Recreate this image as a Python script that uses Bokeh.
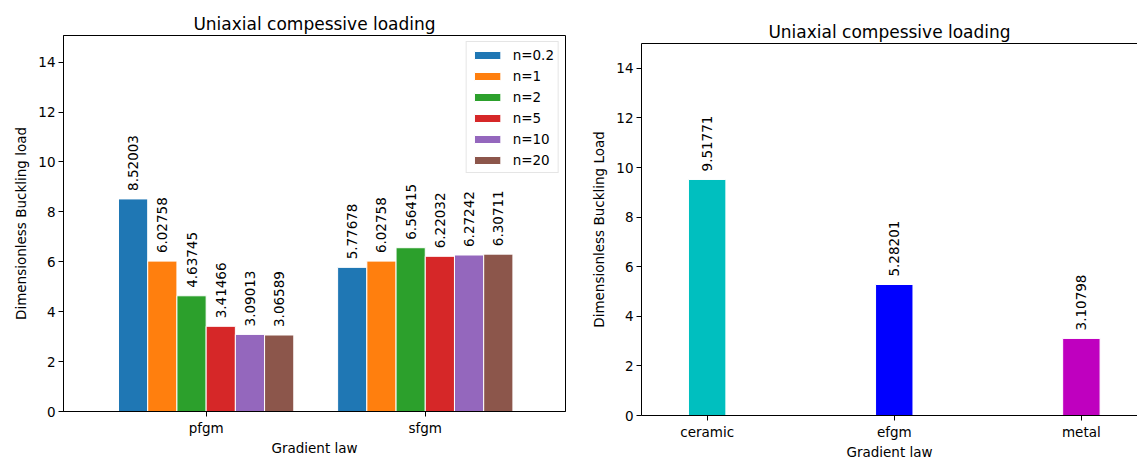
import math
from bokeh.plotting import figure
from bokeh.layouts import row
from bokeh.models import Range1d, FixedTicker, Legend, LegendItem, LinearAxis
from bokeh.core.properties import value
from bokeh.embed import file_html
from bokeh.resources import INLINE

# ---- left chart data ----
left_categories = ["pfgm", "sfgm"]
series_labels = ["n=0.2", "n=1", "n=2", "n=5", "n=10", "n=20"]
pfgm_values = [8.52003, 6.02758, 4.63745, 3.41466, 3.09013, 3.06589]
sfgm_values = [5.77678, 6.02758, 6.56415, 6.22032, 6.27242, 6.30711]
series_colors = ["#1f77b4", "#ff7f0e", "#2ca02c", "#d62728", "#9467bd", "#8c564b"]

# ---- right chart data ----
right_categories = ["ceramic", "efgm", "metal"]
right_values = [9.51771, 5.28201, 3.10798]
right_colors = ["#00bfbf", "#0000ff", "#bf00bf"]

y_ticks = [0, 2, 4, 6, 8, 10, 12, 14]
title_text = "Uniaxial compessive loading"
x_label = "Gradient law"

FONT = "DejaVu Sans"
FS = "13.5px"


def style_axes(p, xticks, xlabels, ylabel):
    p.xaxis.ticker = FixedTicker(ticks=xticks)
    p.xaxis.major_label_overrides = {t: l for t, l in zip(xticks, xlabels)}
    p.yaxis.ticker = FixedTicker(ticks=y_ticks)
    p.xaxis.axis_label = x_label
    p.yaxis.axis_label = ylabel
    for ax in (p.xaxis[0], p.yaxis[0]):
        ax.axis_label_text_font = FONT
        ax.axis_label_text_font_size = FS
        ax.axis_label_text_font_style = "normal"
        ax.axis_label_text_color = "black"
        ax.major_label_text_font = FONT
        ax.major_label_text_font_size = FS
        ax.major_label_text_color = "black"
        ax.major_tick_out = 5
        ax.major_tick_in = 0
        ax.minor_tick_line_color = None
        ax.major_tick_line_color = "black"
        ax.axis_line_color = "black"
        ax.major_label_standoff = 3
    p.xaxis.axis_label_standoff = 1
    p.yaxis.axis_label_standoff = 6
    p.xgrid.visible = False
    p.ygrid.visible = False
    p.title.text = title_text
    p.title.align = "center"
    p.title.text_font = FONT
    p.title.text_font_size = "17px"
    p.title.text_font_style = "normal"
    p.title.text_color = "black"
    p.title.standoff = 4


# ---------------- left figure ----------------
p1 = figure(width=588, height=462, x_range=Range1d(-0.651, 1.640), y_range=Range1d(0, 15.07),
            output_backend="svg", toolbar_location=None, frame_align=False,
            min_border_left=63, min_border_right=23, min_border_top=35, min_border_bottom=51)
p1.outline_line_color = "black"
p1.outline_line_alpha = 1.0
style_axes(p1, [0, 1], left_categories, "Dimensionless Buckling load")

n_series = len(series_labels)
bar_w = 0.8 / n_series
items = []
for j, lab in enumerate(series_labels):
    vals = [pfgm_values[j], sfgm_values[j]]
    xs = [i + (j - (n_series - 1) / 2) * bar_w for i in range(len(left_categories))]
    r = p1.vbar(x=xs, top=vals, width=bar_w, bottom=0, fill_color=series_colors[j],
                line_color="white", line_width=1)
    p1.text(x=xs, y=vals, text=[f"{v:g}" for v in vals], angle=math.pi / 2,
            text_align="left", text_baseline="middle", y_offset=-8,
            text_font=value(FONT), text_font_size=FS, text_color="black")
    items.append(LegendItem(label=lab, renderers=[r]))

legend = Legend(items=items, location="top_right", margin=6, padding=4, spacing=4,
                label_height=17, glyph_height=10, glyph_width=33, label_standoff=9,
                label_text_font=FONT, label_text_font_size=FS, label_text_color="black",
                border_line_color="#cccccc", border_line_width=1, background_fill_alpha=0.8)
p1.add_layout(legend)

# ---------------- right figure ----------------
p2 = figure(width=549, height=462, x_range=Range1d(-0.351, 2.30), y_range=Range1d(0, 15.0),
            output_backend="svg", toolbar_location=None, frame_align=False,
            min_border_left=53, min_border_right=0, min_border_top=43, min_border_bottom=44)
p2.outline_line_color = None
style_axes(p2, list(range(len(right_categories))), right_categories, "Dimensionless Buckling Load")
p2.title.offset = 5
top_axis = LinearAxis(ticker=FixedTicker(ticks=[]), major_tick_line_color=None,
                      minor_tick_line_color=None, major_label_text_font_size="0px",
                      axis_line_color="black")
p2.add_layout(top_axis, "above")

rx = list(range(len(right_categories)))
p2.vbar(x=rx, top=right_values, width=0.2, bottom=0, fill_color=right_colors,
        line_color="white", line_width=1)
p2.text(x=rx, y=right_values, text=[f"{v:g}" for v in right_values], angle=math.pi / 2,
        text_align="left", text_baseline="middle", y_offset=-8,
        text_font=value(FONT), text_font_size=FS, text_color="black")

layout = row(p1, p2)
open("out.html", "w").write(file_html(layout, INLINE))
